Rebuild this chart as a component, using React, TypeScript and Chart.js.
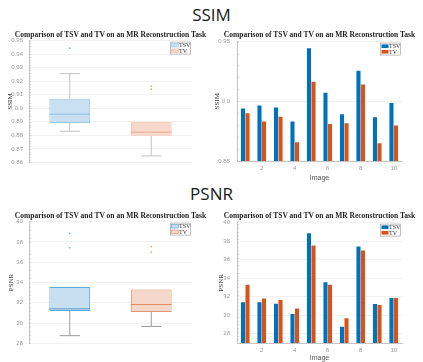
import React, { useEffect, useRef } from 'react';
import { Chart, registerables } from 'chart.js';

Chart.register(...registerables);

// ---------- data ----------
const imageLabels = ['1', '2', '3', '4', '5', '6', '7', '8', '9', '10'];
const shownImageTicks = ['2', '4', '6', '8', '10'];
const methods = ['TSV', 'TV'];

const ssimTSV = [0.894, 0.8965, 0.8948, 0.883, 0.9444, 0.9071, 0.8892, 0.9256, 0.8867, 0.8985];
const ssimTV = [0.89, 0.883, 0.887, 0.8657, 0.9164, 0.881, 0.8817, 0.9141, 0.8648, 0.8797];
const psnrTSV = [31.41, 31.4, 31.23, 30.14, 38.84, 33.55, 28.76, 37.43, 31.2, 31.85];
const psnrTV = [33.3, 31.8, 31.63, 30.72, 37.54, 33.3, 29.67, 36.99, 31.09, 31.85];

const ssimBoxTicks = [0.86, 0.87, 0.88, 0.89, 0.9, 0.91, 0.92, 0.93, 0.94, 0.95];
const ssimBarTicks = [0.85, 0.9, 0.95];
const psnrTicks = [28, 30, 32, 34, 36, 38, 40];

const chartTitle = 'Comparison of TSV and TV on an MR Reconstruction Task';

// ---------- styles ----------
const SANS = "'Liberation Sans', Arial, sans-serif";
const SERIF = "'Liberation Serif', 'Times New Roman', serif";
const HEAD = "'Open Sans', 'Noto Sans', sans-serif";
const BAR_COLORS = ['#0072BD', '#D95319'];

// MATLAB-style percentile
function prctile(sorted: number[], p: number) {
  const n = sorted.length;
  const pos = (n * p) / 100 + 0.5;
  if (pos <= 1) return sorted[0];
  if (pos >= n) return sorted[n - 1];
  const lo = Math.floor(pos);
  const f = pos - lo;
  return sorted[lo - 1] + f * (sorted[lo] - sorted[lo - 1]);
}
function boxStats(vals: number[]) {
  const s = [...vals].sort((a, b) => a - b);
  const q1 = prctile(s, 25);
  const med = prctile(s, 50);
  const q3 = prctile(s, 75);
  const iqr = q3 - q1;
  const lo = q1 - 1.5 * iqr;
  const hi = q3 + 1.5 * iqr;
  const inside = s.filter((v) => v >= lo && v <= hi);
  return {
    q1, med, q3,
    wLo: inside[0],
    wHi: inside[inside.length - 1],
    outliers: s.filter((v) => v < lo || v > hi),
  };
}

function legendPlugin(colors: string[], borders: string[]) {
  return {
    id: 'boxLegend',
    afterDraw(chart: any) {
      const { ctx, chartArea } = chart;
      const w = 21;
      const h = 13;
      const x = chartArea.right - w - 1;
      const y = chartArea.top + 1;
      ctx.save();
      ctx.fillStyle = '#ffffff';
      ctx.fillRect(x, y, w, h);
      ctx.strokeStyle = '#b0b0b0';
      ctx.lineWidth = 0.8;
      ctx.strokeRect(x + 0.5, y + 0.5, w - 1, h - 1);
      ctx.font = `6px ${SERIF}`;
      ctx.textBaseline = 'middle';
      methods.forEach((m, i) => {
        const cy = y + 3.6 + i * 5.6;
        ctx.fillStyle = colors[i];
        ctx.fillRect(x + 1.5, cy - 1.8, 7, 3.6);
        if (borders[i]) {
          ctx.strokeStyle = borders[i];
          ctx.lineWidth = 0.7;
          ctx.strokeRect(x + 1.5, cy - 1.8, 7, 3.6);
        }
        ctx.fillStyle = '#333';
        ctx.fillText(m, x + 9, cy + 0.3);
      });
      ctx.restore();
    },
  };
}

function minorTicksPlugin(min: number, max: number, step: number) {
  return {
    id: 'minorTicks',
    afterDraw(chart: any) {
      const { ctx, chartArea } = chart;
      const ys = chart.scales.y;
      ctx.save();
      ctx.strokeStyle = '#bdbdbd';
      ctx.lineWidth = 0.6;
      const n = Math.round((max - min) / step);
      for (let i = 0; i <= n; i++) {
        const v = min + i * step;
        const py = Math.round(ys.getPixelForValue(v)) + 0.5;
        ctx.beginPath();
        ctx.moveTo(chartArea.left, py);
        ctx.lineTo(chartArea.left + 2, py);
        ctx.stroke();
      }
      ctx.restore();
    },
  };
}

type BoxStyle = {
  fill: string[];
  border: string[];
  median: string[];
  outlier: string[];
  whisker: string;
};

function boxPlugin(stats: ReturnType<typeof boxStats>[], st: BoxStyle) {
  return {
    id: 'boxWhiskers',
    afterDatasetsDraw(chart: any) {
      const { ctx } = chart;
      const xs = chart.scales.x;
      const ys = chart.scales.y;
      const meta = chart.getDatasetMeta(0);
      ctx.save();
      stats.forEach((s, i) => {
        const bar = meta.data[i];
        const cx = xs.getPixelForValue(i);
        const bw = bar.width;
        const capHalf = bw / 4;
        ctx.strokeStyle = st.whisker;
        ctx.lineWidth = 1;
        const yq1 = ys.getPixelForValue(s.q1);
        const yq3 = ys.getPixelForValue(s.q3);
        const yLo = ys.getPixelForValue(s.wLo);
        const yHi = ys.getPixelForValue(s.wHi);
        ctx.beginPath();
        ctx.moveTo(cx, yq1);
        ctx.lineTo(cx, yLo);
        ctx.moveTo(cx - capHalf, yLo);
        ctx.lineTo(cx + capHalf, yLo);
        if (yHi < yq3 - 0.5) {
          ctx.moveTo(cx, yq3);
          ctx.lineTo(cx, yHi);
          ctx.moveTo(cx - capHalf, yHi);
          ctx.lineTo(cx + capHalf, yHi);
        }
        ctx.stroke();
        // median
        const ym = ys.getPixelForValue(s.med);
        ctx.strokeStyle = st.median[i];
        ctx.lineWidth = 1;
        ctx.beginPath();
        ctx.moveTo(cx - bw / 2, ym);
        ctx.lineTo(cx + bw / 2, ym);
        ctx.stroke();
        // outliers
        ctx.fillStyle = st.outlier[i];
        s.outliers.forEach((v) => {
          ctx.beginPath();
          ctx.arc(cx, ys.getPixelForValue(v), 0.9, 0, Math.PI * 2);
          ctx.fill();
        });
      });
      ctx.restore();
    },
  };
}

function yTitle(text: string, padTop: number) {
  return {
    display: true,
    text,
    color: '#333',
    font: { family: SERIF, size: 7 },
    padding: { top: padTop, bottom: 0 },
  };
}

function makeBoxChart(
  canvas: HTMLCanvasElement,
  series: number[][],
  ticks: number[],
  min: number,
  max: number,
  minor: number,
  label: string,
  st: BoxStyle,
  pad: { top: number; right: number; bottom: number },
  yWidth: number,
  titlePad: number
) {
  const stats = series.map(boxStats);
  return new Chart(canvas, {
    type: 'bar',
    data: {
      labels: methods,
      datasets: [
        {
          data: stats.map((s) => [s.q1, s.q3]) as any,
          backgroundColor: st.fill,
          borderColor: st.border,
          borderWidth: 1,
          borderSkipped: false,
          barPercentage: 0.5,
          categoryPercentage: 1,
        },
      ],
    },
    options: {
      animation: false,
      responsive: false,
      events: [],
      layout: { padding: { top: pad.top, right: pad.right, bottom: pad.bottom, left: 0 } },
      plugins: { legend: { display: false }, tooltip: { enabled: false } },
      scales: {
        x: { display: false, offset: true },
        y: {
          min,
          max,
          afterBuildTicks: (s: any) => {
            s.ticks = ticks.map((v) => ({ value: v }));
          },
          afterFit: (s: any) => {
            s.width = yWidth;
          },
          grid: { color: '#f1f1f1', drawTicks: false },
          border: { display: true, color: '#c4c4c4' },
          ticks: {
            padding: 6,
            color: '#9a9a9a',
            font: { family: SANS, size: 6 },
            callback: (v: any) => String(Number(Number(v).toFixed(4))),
          },
          title: yTitle(label, titlePad) as any,
        },
      },
    },
    plugins: [
      boxPlugin(stats, st),
      minorTicksPlugin(min, max, minor),
      legendPlugin(st.fill, st.border),
    ],
  });
}

function makeBarChart(
  canvas: HTMLCanvasElement,
  a: number[],
  b: number[],
  ticks: number[],
  min: number,
  max: number,
  minor: number,
  label: string,
  pad: { top: number; right: number; bottom: number },
  yWidth: number,
  xHeight: number,
  xTitlePadBottom: number,
  titlePad: number
) {
  return new Chart(canvas, {
    type: 'bar',
    data: {
      labels: imageLabels,
      datasets: [
        { label: methods[0], data: a, backgroundColor: BAR_COLORS[0], borderWidth: 0, barPercentage: 0.9, categoryPercentage: 0.55 },
        { label: methods[1], data: b, backgroundColor: BAR_COLORS[1], borderWidth: 0, barPercentage: 0.9, categoryPercentage: 0.55 },
      ],
    },
    options: {
      animation: false,
      responsive: false,
      events: [],
      layout: { padding: { top: pad.top, right: pad.right, bottom: pad.bottom, left: 0 } },
      plugins: { legend: { display: false }, tooltip: { enabled: false } },
      scales: {
        x: {
          afterFit: (s: any) => {
            s.height = xHeight;
          },
          grid: { display: false, drawTicks: false },
          border: { display: true, color: '#c4c4c4' },
          ticks: {
            padding: 4,
            color: '#9a9a9a',
            font: { family: SANS, size: 6 },
            maxRotation: 0,
            autoSkip: false,
            callback: (_v: any, i: number) =>
              shownImageTicks.includes(imageLabels[i]) ? imageLabels[i] : '',
          },
          title: {
            display: true,
            text: 'Image',
            color: '#555',
            font: { family: SANS, size: 7 },
            padding: { top: 0, bottom: xTitlePadBottom },
          },
        },
        y: {
          min,
          max,
          afterBuildTicks: (s: any) => {
            s.ticks = ticks.map((v) => ({ value: v }));
          },
          afterFit: (s: any) => {
            s.width = yWidth;
          },
          grid: { color: '#f1f1f1', drawTicks: false },
          border: { display: true, color: '#c4c4c4' },
          ticks: {
            padding: 7,
            color: '#9a9a9a',
            font: { family: SANS, size: 6 },
            callback: (v: any) => String(Number(Number(v).toFixed(4))),
          },
          title: yTitle(label, titlePad) as any,
        },
      },
    },
    plugins: [minorTicksPlugin(min, max, minor), legendPlugin(BAR_COLORS, ['', ''])],
  });
}

const ssimBoxStyle: BoxStyle = {
  fill: ['#c9e0f2', '#f7d9cc'],
  border: ['#9cc9ea', '#efbda7'],
  median: ['#8fbfe3', '#eaa98c'],
  outlier: ['#72c0e4', '#eca88a'],
  whisker: '#c2c2c2',
};
const psnrBoxStyle: BoxStyle = {
  fill: ['#c8dff1', '#f5d8ca'],
  border: ['#62a9dc', '#e3946f'],
  median: ['#4f9dd6', '#e08a62'],
  outlier: ['#7cbde6', '#eca88a'],
  whisker: '#9a9a9a',
};

export default function App() {
  const tl = useRef<HTMLCanvasElement>(null);
  const tr = useRef<HTMLCanvasElement>(null);
  const bl = useRef<HTMLCanvasElement>(null);
  const br = useRef<HTMLCanvasElement>(null);

  useEffect(() => {
    const charts: Chart[] = [];
    charts.push(
      makeBoxChart(tl.current!, [ssimTSV, ssimTV], ssimBoxTicks, 0.86, 0.95, 0.002, 'SSIM', ssimBoxStyle,
        { top: 8, right: 19, bottom: 8 }, 29, 6)
    );
    charts.push(
      makeBarChart(tr.current!, ssimTSV, ssimTV, ssimBarTicks, 0.85, 0.95, 0.01, 'SSIM',
        { top: 8, right: 21, bottom: 0 }, 26, 23, 2, 2)
    );
    charts.push(
      makeBoxChart(bl.current!, [psnrTSV, psnrTV], psnrTicks, 28, 40, 0.4, 'PSNR', psnrBoxStyle,
        { top: 8, right: 19, bottom: 8 }, 29, 7)
    );
    charts.push(
      makeBarChart(br.current!, psnrTSV, psnrTV, psnrTicks, 27, 40, 0.4, 'PSNR',
        { top: 8, right: 21, bottom: 0 }, 26, 19, 0, 6)
    );
    return () => charts.forEach((c) => c.destroy());
  }, []);

  const canvasStyle = (left: number, top: number, w: number, h: number): React.CSSProperties => ({
    position: 'absolute', left, top, width: w, height: h,
  });
  const heading = (text: string, top: number) => (
    <div style={{ position: 'absolute', left: 0, top, width: 423, textAlign: 'center', fontFamily: HEAD, fontSize: 17, lineHeight: '20px', color: '#1a1a1a' }}>
      {text}
    </div>
  );
  const title = (cx: number, cy: number) => (
    <div style={{ position: 'absolute', left: cx - 110, top: cy - 4.5, width: 220, textAlign: 'center', fontFamily: SERIF, fontWeight: 'bold', fontSize: 7.5, lineHeight: '9px', color: '#1e1e1e', whiteSpace: 'nowrap' }}>
      {chartTitle}
    </div>
  );

  return (
    <div style={{ position: 'absolute', left: 0, top: 0, width: 423, height: 362, overflow: 'hidden', background: '#fff' }}>
      {heading('SSIM', 5)}
      {heading('PSNR', 184)}
      <canvas ref={tl} width={211} height={141} style={canvasStyle(0, 31, 211, 141)} />
      <canvas ref={tr} width={212} height={153} style={canvasStyle(211, 31, 212, 153)} />
      <canvas ref={bl} width={211} height={141} style={canvasStyle(0, 212, 211, 141)} />
      <canvas ref={br} width={212} height={150} style={canvasStyle(211, 212, 212, 150)} />
      {title(110.5, 34)}
      {title(319.5, 34)}
      {title(110.5, 215)}
      {title(319.5, 215)}
    </div>
  );
}
